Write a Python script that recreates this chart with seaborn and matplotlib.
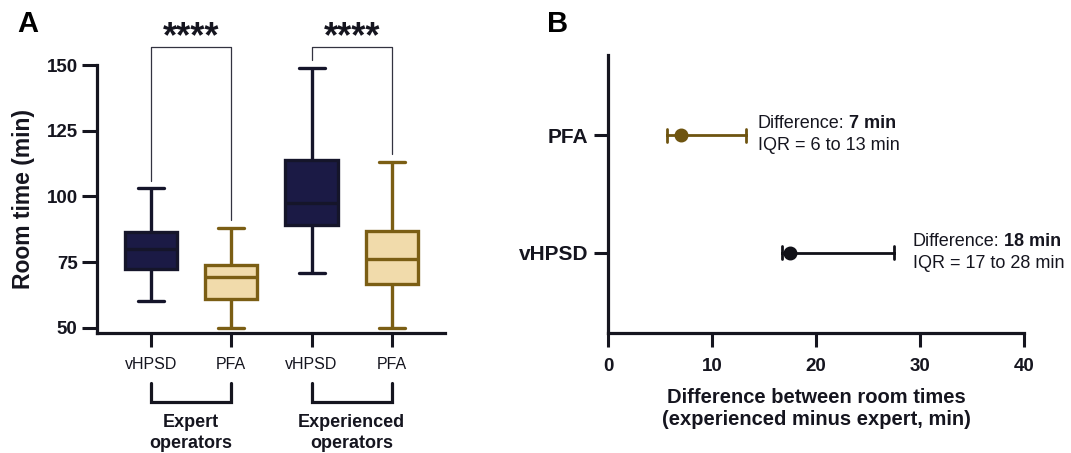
import numpy as np
import pandas as pd
import matplotlib
matplotlib.use("Agg")
import matplotlib.pyplot as plt
import matplotlib.transforms as mtransforms
import seaborn as sns

sns.set_theme(style="ticks")
plt.rcParams['font.family'] = ['Liberation Sans', 'DejaVu Sans']

# ---------------- data ----------------
groups = ["Expert vHPSD", "Expert PFA", "Experienced vHPSD", "Experienced PFA"]
group_devices = ["vHPSD", "PFA", "vHPSD", "PFA"]
tick_labels = ["vHPSD", "PFA", "vHPSD", "PFA"]
# five-number summaries (min, Q1, median, Q3, max)
expert_vhpsd = [60, 72.4, 80, 86.5, 103]
expert_pfa = [50, 60.8, 69.2, 73.7, 88]
experienced_vhpsd = [71, 89, 97.5, 114, 149]
experienced_pfa = [50, 66.7, 76.2, 86.7, 113]
group_labels = ["Expert\noperators", "Experienced\noperators"]
sig_labels = ["****", "****"]

# panel B: difference (lower IQR, median, upper IQR)
diff_devices = ["PFA", "vHPSD"]
pfa_diff = [5.7, 7.0, 13.3]
vhpsd_diff = [16.7, 17.5, 27.5]
diff_text_main = ["7 min", "18 min"]
diff_text_iqr = ["IQR = 6 to 13 min", "IQR = 17 to 28 min"]

# ---------------- colours ----------------
navy_fill = "#1b1a45"
navy_edge = "#15152a"
tan_fill = "#f1dbab"
tan_edge = "#7b5e14"
pfa_point = "#6e5410"
vhpsd_point = "#111118"
ink = "#15151f"

df_a = pd.DataFrame({
    "group": np.repeat(groups, 5),
    "device": np.repeat(group_devices, 5),
    "time": expert_vhpsd + expert_pfa + experienced_vhpsd + experienced_pfa,
})
df_b = pd.DataFrame({
    "device": np.repeat(diff_devices, 3),
    "diff": pfa_diff + vhpsd_diff,
})

fig = plt.figure(figsize=(10.71, 4.53), dpi=100)
axA = fig.add_axes([0.0906, 0.2649, 0.4155 - 0.0906, 0.8565 - 0.2649])
axB = fig.add_axes([0.5677, 0.2649, 0.9561 - 0.5677, 0.8786 - 0.2649])

# ---------------- panel A ----------------
for dev, fc, ec in [("vHPSD", navy_fill, navy_edge), ("PFA", tan_fill, tan_edge)]:
    sns.boxplot(data=df_a[df_a["device"] == dev], x="group", y="time", order=groups,
                color=fc, linecolor=ec, linewidth=2.4, width=0.65, whis=(0, 100),
                saturation=1, fill=True, ax=axA)

axA.set_xlim(-0.67, 3.66)
axA.set_ylim(48, 150)
axA.set_yticks([50, 75, 100, 125, 150])
axA.set_xticks([0, 1, 2, 3])
axA.set_xticklabels(tick_labels, fontsize=11.5)
for lab in axA.get_yticklabels():
    lab.set_fontweight("bold")
    lab.set_fontsize(13.5)
axA.set_xlabel("")
axA.set_ylabel("Room time (min)", fontsize=16.5, fontweight="bold", labelpad=8, color=ink)
for s in ["top", "right"]:
    axA.spines[s].set_visible(False)
for s in ["left", "bottom"]:
    axA.spines[s].set_linewidth(2.3)
    axA.spines[s].set_color(ink)
axA.tick_params(axis="y", length=11, width=2.2, color=ink, labelcolor=ink, pad=3)
axA.tick_params(axis="x", length=10, width=2.2, color=ink, labelcolor=ink, pad=7)

# significance brackets
brackets = [(0, 1, 106, 91), (2, 3, 152, 116)]
for (x0, x1, yl, yr), lab in zip(brackets, sig_labels):
    axA.plot([x0, x0, x1, x1], [yl, 156.8, 156.8, yr], color="#333340", lw=0.9,
             clip_on=False)
    axA.text((x0 + x1) / 2, 160.5, lab, ha="center", va="center", fontsize=26,
             fontweight="bold", color=ink, clip_on=False)

# group brackets below axis
trans = mtransforms.blended_transform_factory(axA.transData, fig.transFigure)
for i, lab in enumerate(group_labels):
    x0, x1 = 2 * i, 2 * i + 1
    axA.plot([x0, x0, x1, x1], [0.1545, 0.1126, 0.1126, 0.1545], transform=trans,
             color=ink, lw=2.3, clip_on=False, solid_joinstyle="miter")
    axA.text((x0 + x1) / 2, 0.044, lab, transform=trans, ha="center", va="center",
             fontsize=13, fontweight="bold", color=ink, linespacing=1.3)

# ---------------- panel B ----------------
sns.pointplot(data=df_b, x="diff", y="device", hue="device", order=diff_devices,
              hue_order=diff_devices, palette=[pfa_point, vhpsd_point],
              estimator="median", errorbar=lambda v: (v.min(), v.max()),
              capsize=0.11, markers="o", linestyle="none", markersize=8,
              err_kws={"linewidth": 2.0}, legend=False, orient="h", ax=axB)
axB.set_xlim(0, 40)
axB.set_ylim(1.68, -0.68)
axB.set_xticks([0, 10, 20, 30, 40])
axB.set_ylabel("")
axB.set_xlabel("Difference between room times\n(experienced minus expert, min)",
               fontsize=14.5, fontweight="bold", labelpad=9, color=ink, linespacing=1.2)
for lab in axB.get_xticklabels():
    lab.set_fontweight("bold")
    lab.set_fontsize(13.5)
for lab in axB.get_yticklabels():
    lab.set_fontweight("bold")
    lab.set_fontsize(15)
for s in ["top", "right"]:
    axB.spines[s].set_visible(False)
for s in ["left", "bottom"]:
    axB.spines[s].set_linewidth(2.3)
    axB.spines[s].set_color(ink)
axB.tick_params(axis="both", length=10, width=2.2, color=ink, labelcolor=ink)
axB.tick_params(axis="x", pad=8)
axB.tick_params(axis="y", pad=4)

text_x = [14.4, 29.3]
for i, (main, iqr) in enumerate(zip(diff_text_main, diff_text_iqr)):
    t1 = axB.text(text_x[i], i - 0.10, "Difference:", ha="left", va="center",
                  fontsize=13, color=ink)
    axB.annotate(main, xy=(1, 0), xycoords=t1, xytext=(3.5, 0),
                 textcoords="offset points", ha="left", va="bottom",
                 fontsize=13, fontweight="bold", color=ink)
    axB.text(text_x[i], i + 0.09, iqr, ha="left", va="center", fontsize=13, color=ink)

fig.text(0.016, 0.947, "A", fontsize=21, fontweight="bold", va="center", ha="left", color="black")
fig.text(0.511, 0.947, "B", fontsize=21, fontweight="bold", va="center", ha="left", color="black")

fig.savefig("out.png", dpi=100)
